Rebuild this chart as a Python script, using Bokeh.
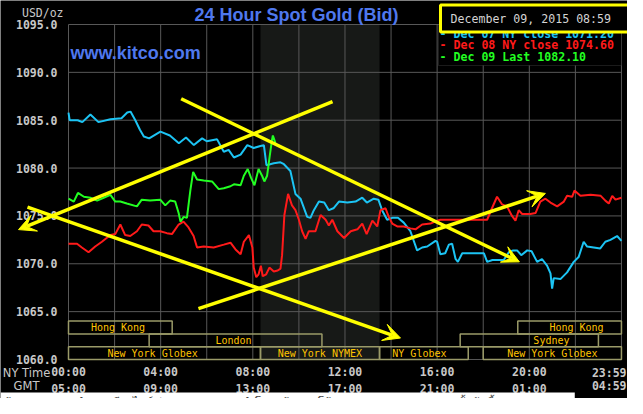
from bokeh.plotting import figure
from bokeh.models import (Range1d, FixedTicker, PrintfTickFormatter, Label, LinearAxis,
                          BoxAnnotation, Arrow, VeeHead, ColumnDataSource)
from bokeh.core.properties import value
from bokeh.embed import file_html
from bokeh.resources import INLINE

# ---------------- data (hours of the NY day, USD/oz) ----------------
dec07_hours = [0.0, 0.05, 0.4, 0.6, 0.95, 1.3, 1.82, 2.3, 2.55, 2.69, 2.9, 3.1, 3.27, 3.5,
               3.99, 4.4, 4.79, 5.1, 5.44, 5.8, 6.0, 6.45, 6.74, 6.95, 7.18, 7.47, 7.76,
               8.04, 8.33, 8.48, 8.59, 8.91, 9.2, 9.35, 9.63, 9.85, 10.07, 10.36, 10.5,
               10.65, 10.87, 11.1, 11.3, 11.5, 11.74, 12.1, 12.46, 12.75, 12.95, 13.25,
               13.45, 13.61, 13.83, 14.05, 14.3, 14.55, 14.84, 15.13, 15.35, 15.57, 15.93,
               16.0, 16.14, 16.35, 16.51, 16.65, 16.8, 16.9, 17.09, 18.03, 18.17, 18.4,
               18.89, 19.11, 19.3, 19.47, 19.65, 19.91, 20.1, 20.34, 20.55, 20.77, 20.92,
               20.99, 21.06, 21.35, 21.64, 21.93, 22.14, 22.36, 22.51, 23.08, 23.3, 23.52,
               23.81, 24.0]
dec07_price = [1085.8, 1085.0, 1085.0, 1084.8, 1085.6, 1084.8, 1085.1, 1085.2, 1085.8, 1085.9,
               1085.0, 1084.0, 1083.3, 1083.1, 1083.8, 1083.4, 1082.6, 1083.2, 1082.4, 1083.1,
               1082.8, 1083.0, 1081.7, 1081.9, 1081.1, 1081.4, 1082.4, 1082.1, 1082.3, 1082.4,
               1080.3, 1080.5, 1080.6, 1080.4, 1079.7, 1077.3, 1076.8, 1074.9, 1074.8, 1075.6,
               1076.5, 1076.4, 1075.6, 1075.8, 1076.5, 1076.4, 1076.5, 1076.9, 1076.4, 1076.8,
               1076.7, 1075.6, 1074.6, 1074.8, 1074.8, 1074.3, 1073.4, 1071.4, 1071.7, 1071.8,
               1072.4, 1072.3, 1071.0, 1071.1, 1072.0, 1072.1, 1070.5, 1070.2, 1071.1, 1071.1,
               1070.2, 1070.4, 1070.4, 1071.2, 1071.4, 1071.4, 1070.9, 1071.4, 1071.3, 1070.2,
               1070.5, 1069.8, 1069.0, 1067.4, 1068.5, 1068.4, 1069.1, 1070.2, 1070.7, 1072.3,
               1071.8, 1071.6, 1072.3, 1072.5, 1072.9, 1072.4]

dec08_hours = [0.0, 0.37, 0.58, 0.87, 1.16, 1.45, 1.82, 2.03, 2.25, 2.46, 2.68, 2.97, 3.18,
               3.47, 3.69, 3.98, 4.27, 4.49, 4.78, 4.99, 5.21, 5.43, 5.58, 5.87, 6.3, 6.74,
               7.03, 7.25, 7.47, 7.61, 7.83, 7.98, 8.04, 8.15, 8.25, 8.35, 8.43, 8.58, 8.72,
               8.91, 9.08, 9.2, 9.27, 9.37, 9.53, 9.7, 9.85, 10.0, 10.14, 10.29, 10.43, 10.72,
               10.94, 11.16, 11.3, 11.45, 11.67, 11.96, 12.25, 12.54, 12.75, 12.94, 13.19,
               13.4, 13.54, 13.76, 13.9, 14.05, 14.27, 14.55, 14.84, 15.06, 15.35, 15.71,
               16.0, 16.14, 16.72, 17.45, 18.17, 18.38, 18.6, 18.82, 19.03, 19.25, 19.4,
               19.54, 19.69, 20.05, 20.27, 20.48, 20.7, 20.92, 21.21, 21.5, 21.64, 21.86,
               21.96, 22.22, 22.66, 23.1, 23.3, 23.45, 23.6, 23.74, 24.0]
dec08_price = [1072.1, 1072.1, 1071.7, 1071.2, 1071.8, 1072.3, 1073.0, 1073.1, 1074.1, 1073.0,
               1072.9, 1073.4, 1074.1, 1074.0, 1073.4, 1073.4, 1073.2, 1073.1, 1074.1, 1074.4,
               1073.8, 1072.9, 1071.7, 1071.8, 1071.7, 1072.0, 1072.2, 1071.5, 1071.0, 1072.3,
               1073.0, 1071.7, 1069.6, 1068.6, 1068.9, 1069.8, 1068.7, 1068.9, 1069.6, 1069.2,
               1069.3, 1069.5, 1070.9, 1075.1, 1077.3, 1076.1, 1075.6, 1074.6, 1073.4, 1072.6,
               1073.4, 1073.4, 1075.1, 1074.6, 1074.0, 1074.6, 1073.4, 1072.7, 1073.4, 1073.6,
               1074.2, 1073.1, 1074.5, 1073.9, 1075.6, 1075.8, 1074.9, 1074.2, 1073.9, 1073.9,
               1073.7, 1073.6, 1074.1, 1074.2, 1074.5, 1074.6, 1074.6, 1074.6, 1074.6, 1075.8,
               1077.0, 1076.2, 1076.0, 1075.0, 1074.5, 1075.6, 1075.2, 1075.2, 1075.3, 1076.5,
               1076.8, 1076.4, 1076.0, 1076.5, 1077.1, 1077.0, 1077.65, 1077.1, 1077.2, 1077.1,
               1076.6, 1076.3, 1077.1, 1076.7, 1076.9]

dec09_hours = [0.0, 0.23, 0.41, 0.67, 0.95, 1.24, 1.45, 1.82, 2.03, 2.25, 2.53, 2.97, 3.18,
               3.54, 3.98, 4.2, 4.41, 4.63, 4.78, 4.86, 5.0, 5.14, 5.29, 5.41, 5.58, 5.87,
               6.23, 6.52, 6.74, 7.03, 7.18, 7.47, 7.61, 7.78, 7.92, 8.07, 8.25, 8.4, 8.5,
               8.62, 8.73, 8.83, 8.87, 8.98]
dec09_price = [1076.8, 1076.5, 1077.4, 1077.0, 1076.9, 1076.6, 1076.8, 1077.2, 1076.5, 1076.5,
               1076.3, 1076.0, 1076.7, 1076.6, 1076.7, 1076.1, 1076.6, 1076.5, 1075.3, 1074.4,
               1074.9, 1074.8, 1077.7, 1079.6, 1078.8, 1078.7, 1078.6, 1077.8, 1077.9, 1078.1,
               1078.3, 1078.2, 1079.2, 1079.9, 1079.0, 1078.2, 1079.9, 1079.2, 1078.6, 1079.2,
               1081.2, 1082.9, 1083.4, 1082.6]

series_names = ["Dec 07 NY close", "Dec 08 NY close", "Dec 09 Last"]
series_last = [1071.20, 1074.60, 1082.10]

# trading sessions (row 0 = bottom)
session_names = ["Hong Kong", "Hong Kong", "London", "Sydney", "New York Globex",
                 "New York NYMEX", "NY Globex", "New York Globex"]
session_start = [0.0, 19.5, 3.5, 17.0, 0.0, 8.333, 13.5, 18.0]
session_end = [4.5, 24.0, 11.0, 23.0, 8.333, 13.5, 17.35, 24.0]
session_row = [2, 2, 1, 1, 0, 0, 0, 0]
session_label_hour = [2.15, 22.05, 7.16, 20.96, 3.65, 10.91, 15.23, 21.0]

nymex_open, nymex_close = 8.333, 13.5

x_tick_hours = [0, 4, 8, 12, 16, 20]
ny_time_labels = ["00:00", "04:00", "08:00", "12:00", "16:00", "20:00"]
gmt_labels = ["05:00", "09:00", "13:00", "17:00", "21:00", "01:00"]
end_ny_label, end_gmt_label = "23:59", "04:59"
grid_hours = list(range(0, 25, 2))
y_ticks = [1060, 1065, 1070, 1075, 1080, 1085, 1090, 1095]

# hand-drawn trend arrows (hour, price)
trend_x0 = [4.89, 11.46, -1.78, 5.64]
trend_y0 = [1087.24, 1086.94, 1075.92, 1065.31]
trend_x1 = [19.57, -2.17, 14.41, 20.7]
trend_y1 = [1070.2, 1073.57, 1062.24, 1077.35]

stamp = "December 09, 2015 08:59"
footer = "ข้อมูลราคาทองคำแบบเรียลไทม์ ช่วงเวลาตลาดทองคำโลก เส้นแนวโน้ม - gold price trend ระยะสั้นวันนี้"

# ---------------- layout / styling ----------------
W, H = 627, 398
PX_X0, PX_PER_H = 68, 23.04          # pixel of hour 0, pixels per hour
PX_Y0, PX_PER_USD = 24, 9.571        # pixel of 1095, pixels per dollar
def hx(px):
    return (px - PX_X0) / PX_PER_H
def vy(py):
    return 1095 - (py - PX_Y0) / PX_PER_USD

MONO = "DejaVu Sans Mono"
GREY = "#c8c8c8"
GRID = "#585858"
colors = ["#1cc4f4", "#ff1a1a", "#22ff22"]
BLUE = "#4f78ee"
ROW1, ROW2 = 372, 385                 # pixel rows of the two time scales

p = figure(width=W, height=H, x_range=Range1d(hx(0), hx(W)), y_range=Range1d(vy(H), vy(0)),
           x_axis_type=None, y_axis_type=None, output_backend="svg", toolbar_location=None,
           min_border=0, background_fill_color="#000000", border_fill_color="#000000",
           outline_line_color=None)

# axes drawn at the edges of the price area
yax = LinearAxis(fixed_location=0, ticker=FixedTicker(ticks=y_ticks),
                 formatter=PrintfTickFormatter(format="%.1f"))
xax = LinearAxis(fixed_location=1060, ticker=FixedTicker(ticks=x_tick_hours),
                 major_label_overrides={h: f"{a}\n{b}" for h, a, b in
                                        zip(x_tick_hours, ny_time_labels, gmt_labels)})
for ax in (xax, yax):
    ax.axis_line_color = None
    ax.major_tick_line_color = None
    ax.minor_tick_line_color = None
    ax.major_label_text_color = GREY
    ax.major_label_text_font = MONO
    ax.major_label_text_font_size = "11.5px"
    ax.major_label_text_font_style = "bold"
yax.major_label_standoff = 5
xax.major_label_standoff = 0
xax.major_label_text_line_height = 1.15
p.add_layout(yax, "left")
p.add_layout(xax, "below")

# NYMEX shading
p.add_layout(BoxAnnotation(left=nymex_open, right=nymex_close, bottom=1060, top=1095,
                           fill_color="#171917", fill_alpha=1, line_color=None, level="image"))

# grid lines limited to the price area
p.segment(x0=grid_hours, y0=[1060] * len(grid_hours), x1=grid_hours, y1=[1095] * len(grid_hours),
          line_color=GRID, line_width=1, level="underlay")
p.segment(x0=[0] * len(y_ticks), y0=y_ticks, x1=[24] * len(y_ticks), y1=y_ticks,
          line_color=GRID, line_width=1, level="underlay")

# sessions
ROW_H = 12.8 / PX_PER_USD
src_s = ColumnDataSource(dict(
    left=session_start, right=session_end,
    bottom=[1060 + r * ROW_H for r in session_row],
    top=[1060 + (r + 1) * ROW_H for r in session_row],
    xm=session_label_hour, ym=[1060 + (r + 0.5) * ROW_H for r in session_row],
    name=session_names))
p.quad(left="left", right="right", bottom="bottom", top="top", source=src_s,
       fill_color=None, line_color="#9a9a68", line_width=1.5)
p.text(x="xm", y="ym", text="name", source=src_s, text_font=value(MONO),
       text_font_size=value("10px"), text_color="#ffc400", text_align="center",
       text_baseline="middle")

# price lines
for hrs, prc, c in zip([dec07_hours, dec08_hours, dec09_hours],
                       [dec07_price, dec08_price, dec09_price], colors):
    p.line(hrs, prc, line_color=c, line_width=2)

# trend arrows
src_a = ColumnDataSource(dict(x0=trend_x0, y0=trend_y0, x1=trend_x1, y1=trend_y1))
p.add_layout(Arrow(end=VeeHead(size=17, fill_color="#ffff00", line_color="#ffff00"),
                   x_start="x0", y_start="y0", x_end="x1", y_end="y1", source=src_a,
                   line_color="#ffff00", line_width=3.5))

# legend box
p.add_layout(BoxAnnotation(left=hx(438), right=24, top=1095, bottom=vy(65),
                           fill_color="#000000", fill_alpha=1, line_color=GRID, line_width=1))
for i, (nm, last, c) in enumerate(zip(series_names, series_last, colors)):
    p.add_layout(Label(x=hx(439), y=vy(33 + 11.8 * i), text=f"- {nm} {last:.2f}",
                       text_font=MONO, text_font_size="11.6px", text_font_style="bold",
                       text_color=c, text_baseline="middle"))

# timestamp box (overlaps the first legend entry, as in the original)
p.add_layout(Label(x=hx(440), y=vy(18), text=stamp, text_font=MONO, text_font_size="11.6px",
                   text_color="#d4d4d4", text_baseline="middle",
                   background_fill_color="#000000", border_line_color="#ffff00",
                   border_line_width=3,
                   padding=dict(left=10, right=19, top=7, bottom=6)))

# titles and side texts
p.add_layout(Label(x=hx(296), y=vy(14), text="24 Hour Spot Gold (Bid)", text_font="Liberation Sans",
                   text_font_size="18px", text_font_style="bold", text_color=BLUE,
                   text_align="center", text_baseline="middle"))
p.add_layout(Label(x=hx(70), y=vy(52), text="www.kitco.com", text_font="Liberation Sans",
                   text_font_size="18px", text_font_style="bold", text_color=BLUE,
                   text_baseline="middle"))
p.add_layout(Label(x=hx(63), y=vy(12), text="USD/oz", text_font=MONO, text_font_size="11.5px",
                   text_color=GREY, text_align="right", text_baseline="middle"))
for py, t in [(ROW1, "NY Time"), (ROW2, "GMT")]:
    p.add_layout(Label(x=hx(26), y=vy(py), text=t, text_font="DejaVu Sans", text_font_size="11.5px",
                       text_color=GREY, text_align="center", text_baseline="middle"))
for py, t in [(ROW1, end_ny_label), (ROW2, end_gmt_label)]:
    p.add_layout(Label(x=hx(626), y=vy(py), text=t, text_font=MONO, text_font_size="11.5px",
                       text_font_style="bold", text_color=GREY, text_align="right",
                       text_baseline="middle"))

# cut-off footer strip
p.add_layout(Label(x=hx(0), y=vy(392), text=footer, text_font="Noto Sans",
                   text_font_size="11px", text_color="#333333", text_baseline="top",
                   background_fill_color="#ffffff",
                   padding=dict(left=2, right=80, top=1, bottom=6)))

open("out.html", "w").write(file_html(p, INLINE))
